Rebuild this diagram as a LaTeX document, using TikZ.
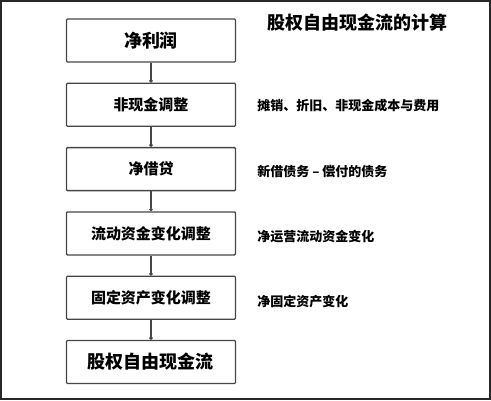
\documentclass[tikz,border=0pt]{standalone}
\usepackage{fontspec}
\setmainfont{Noto Sans CJK SC}
\usetikzlibrary{positioning,arrows.meta}
\definecolor{framegray}{RGB}{40,40,40}
\definecolor{boxgray}{RGB}{70,70,70}

\begin{document}
\begin{tikzpicture}[x=1pt,y=1pt,>=Latex]
  \tikzset{
    stepbox/.style={draw=boxgray,line width=1.3pt,rounded corners=1pt,
      minimum width=169pt,minimum height=43pt,inner sep=0pt,font=\fontsize{15}{15}\selectfont\bfseries},
    bigbox/.style={stepbox,font=\fontsize{18}{18}\selectfont\bfseries},
    note/.style={anchor=west,inner sep=0pt,font=\fontsize{13}{13}\selectfont\bfseries},
    link/.style={draw=boxgray,line width=1.1pt,-{Circle[length=3.5pt]}},
  }
  \useasboundingbox (0,0) rectangle (491,-400);
  \draw[framegray,line width=2.2pt] (1.1,-1.1) rectangle (489.9,-398.9);

  \node[bigbox] (jlr) at (151,-40.5) {净利润};
  \node[stepbox,below=20pt of jlr] (fxj) {非现金调整};
  \node[stepbox,below=20pt of fxj] (jjd) {净借贷};
  \node[stepbox,below=20pt of jjd] (ldzj) {流动资金变化调整};
  \node[stepbox,below=20pt of ldzj] (gdzc) {固定资产变化调整};
  \node[bigbox,below=20pt of gdzc] (fcfe) {股权自由现金流};

  \draw[link] (jlr) -- (fxj);
  \draw[link] (fxj) -- (jjd);
  \draw[link] (jjd) -- (ldzj);
  \draw[link] (ldzj) -- (gdzc);
  \draw[link] (gdzc) -- (fcfe);

  \node[font=\fontsize{18}{18}\selectfont\bfseries] (title) at (357,-23) {股权自由现金流的计算};
  \node[note,right=21pt of fxj,yshift=-1pt] (n1) {摊销、折旧、非现金成本与费用};
  \node[note,right=21pt of jjd,yshift=-2pt] (n2) {新借债务 – 偿付的债务};
  \node[note,right=21pt of ldzj,yshift=-3pt] (n3) {净运营流动资金变化};
  \node[note,right=21pt of gdzc,yshift=-4pt] (n4) {净固定资产变化};
\end{tikzpicture}
\end{document}
